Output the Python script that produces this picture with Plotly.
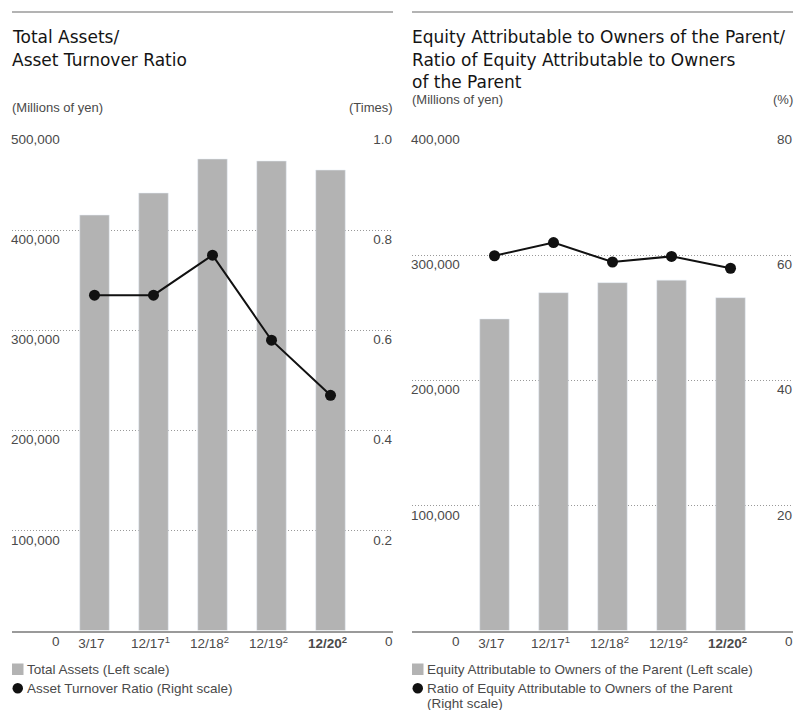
import plotly.graph_objects as go

W, H = 795, 710

categories = ["3/17", "12/17<sup>1</sup>", "12/18<sup>2</sup>", "12/19<sup>2</sup>", "<b>12/20<sup>2</sup></b>"]
total_assets = [415000, 437000, 471000, 469000, 460000]
asset_turnover = [0.67, 0.67, 0.75, 0.58, 0.47]
equity_parent = [249000, 270000, 278000, 280000, 266000]
equity_ratio = [59.9, 62.0, 58.9, 59.8, 57.9]

left_ticks = [100000, 200000, 300000, 400000, 500000]
left_ticks2 = [0.2, 0.4, 0.6, 0.8, 1.0]
right_ticks = [100000, 200000, 300000, 400000]
right_ticks2 = [20, 40, 60, 80]

BAR = "#b3b3b3"
TXT = "#4a4a4a"
FONT = "Liberation Sans"
TFONT = "DejaVu Sans"


def px(x):
    return x / W


def py(y):
    return 1 - y / H


xpos = list(range(len(categories)))

fig = go.Figure()
fig.add_trace(go.Bar(x=xpos, y=total_assets, xaxis="x", yaxis="y", marker_color=BAR,
                     width=0.5, showlegend=False, hoverinfo="skip"))
fig.add_trace(go.Scatter(x=xpos, y=asset_turnover, xaxis="x", yaxis="y2", mode="lines+markers",
                         line=dict(color="#111", width=2), marker=dict(color="#111", size=11),
                         showlegend=False, hoverinfo="skip"))
fig.add_trace(go.Bar(x=xpos, y=equity_parent, xaxis="x2", yaxis="y3", marker_color=BAR,
                     width=0.5, showlegend=False, hoverinfo="skip"))
fig.add_trace(go.Scatter(x=xpos, y=equity_ratio, xaxis="x2", yaxis="y4", mode="lines+markers",
                         line=dict(color="#111", width=2), marker=dict(color="#111", size=11),
                         showlegend=False, hoverinfo="skip"))

xr = [-1.398, 5.059]
ydom = [py(630.5), py(130)]
tickfont = dict(family=FONT, size=13.5, color=TXT)


def xaxis(dom):
    return dict(domain=dom, range=xr, tickvals=xpos, ticktext=categories, showgrid=False,
                zeroline=False, showline=True, linecolor="#9a9a9a", linewidth=1.5,
                ticks="", tickfont=tickfont, ticklabelshift=-3, fixedrange=True)


def yleft(rng, ticks, anchor):
    return dict(domain=ydom, range=rng, tickvals=ticks, ticktext=[f"{t:,}" for t in ticks],
                ticklabelposition="inside bottom", ticklabelstandoff=-4, showgrid=True,
                griddash="1px,2px", gridcolor="#999999", gridwidth=1, zeroline=False,
                showline=False, ticks="", tickfont=tickfont, anchor=anchor, side="left",
                fixedrange=True)


def yright(rng, ticks, ticktext, overlay, anchor):
    return dict(range=rng, tickvals=ticks, ticktext=ticktext, overlaying=overlay, side="right",
                anchor=anchor, ticklabelposition="inside bottom", ticklabelstandoff=-2,
                showgrid=False, zeroline=False, showline=False, ticks="", tickfont=tickfont,
                fixedrange=True)


fig.update_layout(
    width=W, height=H, margin=dict(l=0, r=0, t=0, b=0),
    paper_bgcolor="white", plot_bgcolor="rgba(0,0,0,0)",
    xaxis=xaxis([px(12), px(393)]),
    xaxis2=xaxis([px(412), px(793)]),
    yaxis=yleft([0, 500000], left_ticks, "x"),
    yaxis2=yright([0, 1.0], left_ticks2, [f"{t:.1f}" for t in left_ticks2], "y", "x"),
    yaxis3=yleft([0, 400000], right_ticks, "x2"),
    yaxis4=yright([0, 80], right_ticks2, [str(t) for t in right_ticks2], "y3", "x2"),
    showlegend=False,
)

ann = []


def text(x, y, s, size=13, color=TXT, anchor="left", family=FONT):
    ann.append(dict(x=px(x), y=py(y), xref="paper", yref="paper", text=s, showarrow=False,
                    xanchor=anchor, yanchor="middle", borderpad=0,
                    font=dict(family=family, size=size, color=color)))


TS = 17
TC = "#141414"
LS = 13.5
# titles
text(11, 37, "Total Assets/", TS, TC, family=TFONT)
text(11, 60, "Asset Turnover Ratio", TS, TC, family=TFONT)
text(411, 37, "Equity Attributable to Owners of the Parent/", TS, TC, family=TFONT)
text(411, 60, "Ratio of Equity Attributable to Owners", TS, TC, family=TFONT)
text(411, 82, "of the Parent", TS, TC, family=TFONT)
# units
text(11, 107, "(Millions of yen)")
text(394, 107, "(Times)", anchor="right")
text(411, 99, "(Millions of yen)")
text(794, 99, "(%)", anchor="right")
# zero labels
text(61, 641, "0", LS, anchor="right")
text(394, 641, "0", LS, anchor="right")
text(461, 641, "0", LS, anchor="right")
text(794, 641, "0", LS, anchor="right")
# legends
text(26, 669, "Total Assets (Left scale)", LS)
text(26, 688, "Asset Turnover Ratio (Right scale)", LS)
text(426, 669, "Equity Attributable to Owners of the Parent (Left scale)", LS)
text(426, 688, "Ratio of Equity Attributable to Owners of the Parent", LS)
text(426, 703, "(Right scale)", LS)
fig.update_layout(annotations=ann)

shapes = []
for x0 in (12, 412):
    shapes.append(dict(type="line", xref="paper", yref="paper", x0=px(x0), x1=px(x0 + 381),
                       y0=py(12), y1=py(12), line=dict(color="#9a9a9a", width=1.5)))
    shapes.append(dict(type="rect", xref="paper", yref="paper", x0=px(x0), x1=px(x0 + 11.5),
                       y0=py(675), y1=py(663.5), fillcolor=BAR, line=dict(width=0)))
    shapes.append(dict(type="circle", xref="paper", yref="paper", x0=px(x0 + 0.5), x1=px(x0 + 11),
                       y0=py(693.5), y1=py(683), fillcolor="#111", line=dict(width=0)))
fig.update_layout(shapes=shapes)

fig.write_html("out.html")
